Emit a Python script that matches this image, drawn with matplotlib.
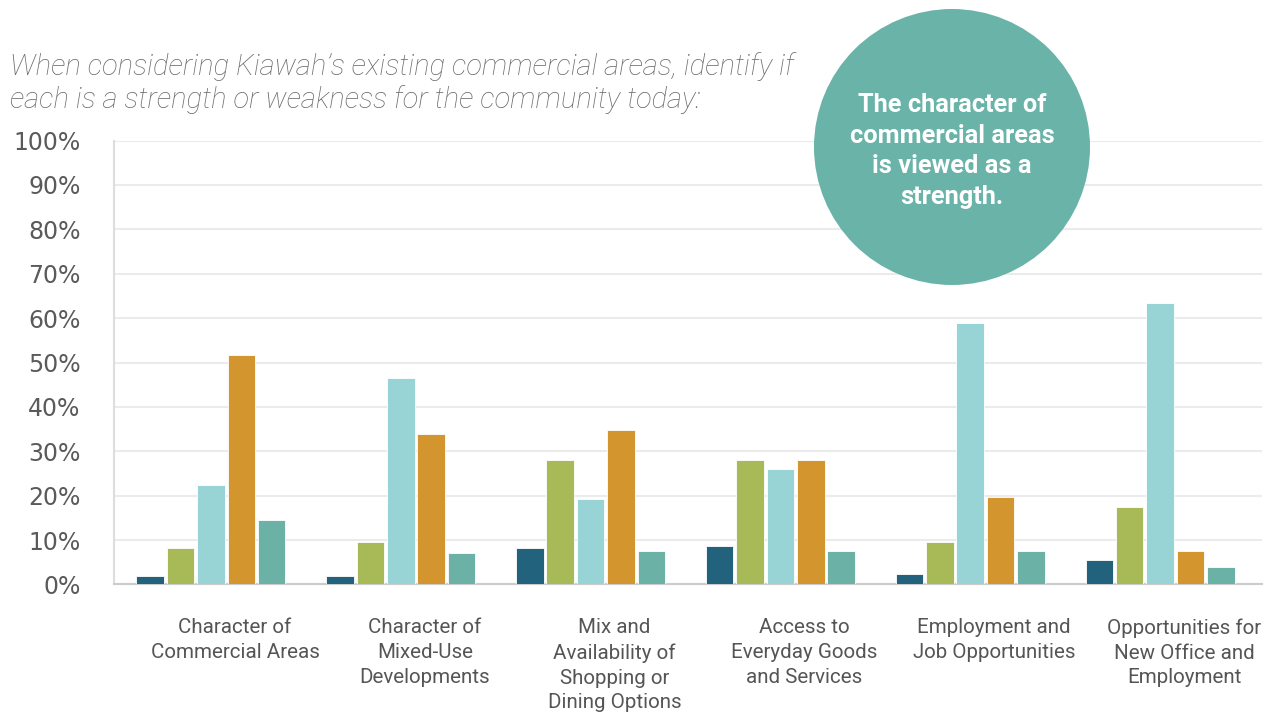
import matplotlib
matplotlib.use("Agg")
import matplotlib.pyplot as plt
import matplotlib.transforms as mtransforms
import numpy as np
from matplotlib.patches import Ellipse

categories = [
    "Character of\nCommercial Areas",
    "Character of\nMixed-Use\nDevelopments",
    "Mix and\nAvailability of\nShopping or\nDining Options",
    "Access to\nEveryday Goods\nand Services",
    "Employment and\nJob Opportunities",
    "Opportunities for\nNew Office and\nEmployment",
]
series1 = [1.9, 1.9, 8.1, 8.6, 2.3, 5.5]
series2 = [8.1, 9.6, 28.0, 28.0, 9.6, 17.5]
series3 = [22.3, 46.4, 19.2, 26.0, 59.0, 63.3]
series4 = [51.8, 33.9, 34.9, 28.0, 19.7, 7.6]
series5 = [14.5, 7.0, 7.6, 7.6, 7.6, 4.0]
yticks = [0, 10, 20, 30, 40, 50, 60, 70, 80, 90, 100]
ytick_labels = [f"{v}%" for v in yticks]

colors = ["#22627c", "#a8b958", "#98d3d5", "#d3962e", "#6bb1a6"]
all_series = [series1, series2, series3, series4, series5]

W, H = 1277, 713
fig = plt.figure(figsize=(W / 100, H / 100), dpi=100)
ax = fig.add_axes([114 / W, 1 - 584.4 / H, 1148 / W, 443.8 / H])

x = np.arange(len(categories))
step = 0.16
width = 0.145
for i, (vals, c) in enumerate(zip(all_series, colors)):
    ax.bar(x + (i - 2) * step, vals, width=width, color=c, edgecolor="white",
           linewidth=0.6, zorder=3)

ax.set_xlim(-0.511, 5.537)
ax.set_ylim(0, 100)
ax.set_yticks(yticks)
ax.set_yticklabels(ytick_labels, fontsize=17, color="#5a5a5a", family="DejaVu Sans")
ax.tick_params(axis="y", length=0, pad=24)
ax.set_xticks(x)
ax.set_xticklabels(categories, fontsize=14.8, color="#555555", family="Roboto",
                   linespacing=1.38)
ax.tick_params(axis="x", length=0, pad=24.5)
shift = mtransforms.ScaledTranslation(0.24, 0, fig.dpi_scale_trans)
for lbl in ax.get_xticklabels():
    lbl.set_transform(lbl.get_transform() + shift)
ax.grid(axis="y", color="#ebebeb", linewidth=1.5, zorder=0)
ax.set_axisbelow(True)
for s in ["top", "right"]:
    ax.spines[s].set_visible(False)
ax.spines["left"].set_color("#dddddd")
ax.spines["left"].set_linewidth(1.5)
ax.spines["bottom"].set_color("#cccccc")
ax.spines["bottom"].set_linewidth(1.5)

fig.text(10 / W, 1 - 83 / H,
         "When considering Kiawah\u2019s existing commercial areas, identify if\n"
         "each is a strength or weakness for the community today:",
         fontsize=21, color="#6a6a6a", family="Roboto", style="italic",
         weight="light", va="center", ha="left", linespacing=1.2)

cx, cy, r = 952, 147, 138
fig.add_artist(Ellipse((cx / W, 1 - cy / H), 2 * r / W, 2 * r / H,
                       transform=fig.transFigure, facecolor="#6ab3a8",
                       edgecolor="none", zorder=5))
fig.text(cx / W, 1 - 151 / H,
         "The character of\ncommercial areas\nis viewed as a\nstrength.",
         fontsize=18.3, color="white", family="Roboto", weight="bold",
         ha="center", va="center", linespacing=1.35, zorder=6)

fig.savefig("out.png", dpi=100, facecolor="white")
